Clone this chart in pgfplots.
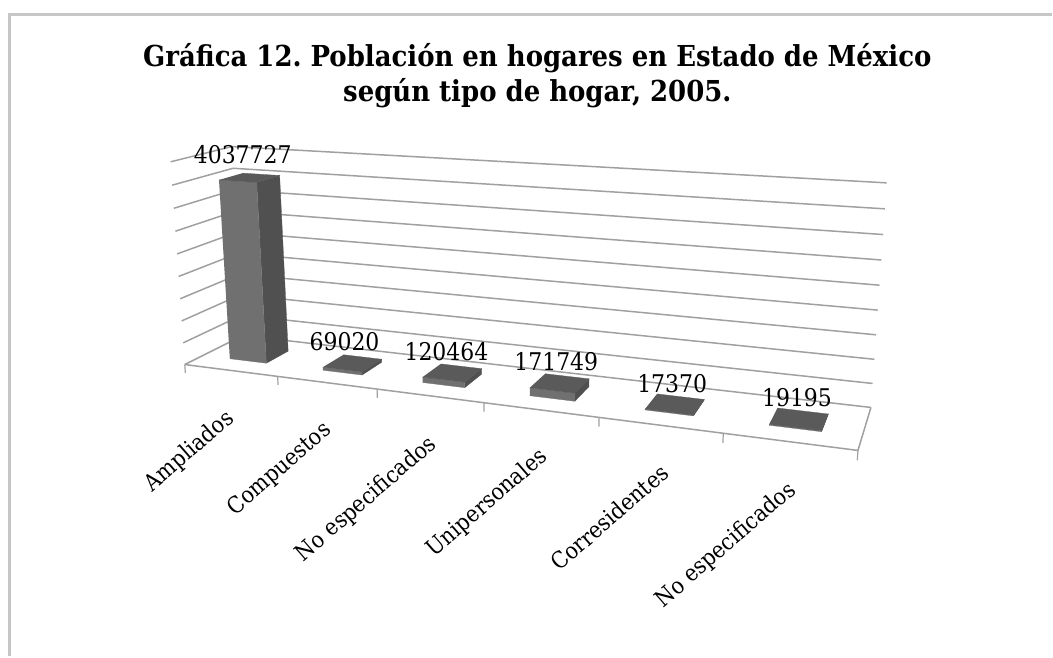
\documentclass[border=0pt]{standalone}
\usepackage{fontspec}
\usepackage{pgfplots}
\pgfplotsset{compat=1.18}
\setmainfont{DejaVu Serif Condensed}
\newfontfamily\lab{DejaVu Serif Condensed}
\definecolor{gridc}{HTML}{A0A0A0}
\definecolor{framec}{HTML}{C6C6C6}
\definecolor{frontc}{HTML}{707070}
\definecolor{sidec}{HTML}{505050}
\definecolor{topc}{HTML}{5A5A5A}
% one projected face: #1 style, #2 category offset, #3 rows x y z
\newcommand{\face}[3]{\addplot[#1] table[row sep=\\,
  x expr={prju(\thisrow{x}+#2,\thisrow{y},\thisrow{z})},
  y expr={prjv(\thisrow{x}+#2,\thisrow{y},\thisrow{z})}] {x y z\\ #3};}
% a bar: #1 category index, #2 value
\newcommand{\threebar}[2]{%
  \face{fill=sidec,draw=sidec,line width=.3bp}{#1}{0.7 0.3 0\\ 0.7 0.7 0\\ 0.7 0.7 #2\\ 0.7 0.3 #2\\}
  \face{fill=frontc,draw=frontc,line width=.3bp}{#1}{0.3 0.3 0\\ 0.7 0.3 0\\ 0.7 0.3 #2\\ 0.3 0.3 #2\\}
  \face{fill=topc,draw=topc,line width=.3bp}{#1}{0.3 0.3 #2\\ 0.7 0.3 #2\\ 0.7 0.7 #2\\ 0.3 0.7 #2\\}
}
\newcommand{\gridl}[1]{\face{gridc,line width=1.5bp}{0}{0 0 #1\\ 0 1 #1\\ 6 1 #1\\}}
\newcommand{\tickl}[1]{\face{gridc,line width=1.2bp}{#1}{0 0 0\\ 0 0 -190000\\}}
\begin{document}
\frenchspacing
\begin{tikzpicture}
\begin{axis}[
  scale only axis, width=1053bp, height=657bp,
  xmin=0, xmax=1053, ymin=0, ymax=657, y dir=reverse,
  hide axis, clip=false, no markers,
  declare function={
    prjz(\a,\c)=\c/4500000*(1-0.026*\a/6);
    prjw(\a,\b,\c)=1-0.2*\a/6+0.0757*\b-0.0395*prjz(\a,\c);
    prju(\a,\b,\c)=(502.2*\a/6+76.4*\b-20.9*prjz(\a,\c)+185)/prjw(\a,\b,\c);
    prjv(\a,\b,\c)=(-4.2*\a/6-3.56*\b-209.4*prjz(\a,\c)+365)/prjw(\a,\b,\c);
  },
]
% full page extent
\path (axis cs:0,0) rectangle (axis cs:1053,657);
% frame
\addplot[framec,line width=2.6bp] coordinates {(9.5,657) (9.5,14.5) (1053,14.5)};
% walls
\gridl{0}\gridl{500000}\gridl{1000000}\gridl{1500000}\gridl{2000000}
\gridl{2500000}\gridl{3000000}\gridl{3500000}\gridl{4000000}\gridl{4500000}
% floor front and right edge
\face{gridc,line width=1.5bp}{0}{0 0 0\\ 6 0 0\\ 6 1 0\\}
\tickl{0}\tickl{1}\tickl{2}\tickl{3}\tickl{4}\tickl{5}\tickl{6}
% bars
\threebar{0}{4037727}
\threebar{1}{69020}
\threebar{2}{120464}
\threebar{3}{171749}
\threebar{4}{17370}
\threebar{5}{19195}
% data labels
\addplot[only marks, mark=none, nodes near coords, point meta=explicit symbolic,
  nodes near coords align={center},
  every node near coord/.append style={font=\lab\fontsize{24.5}{24.5}\selectfont, text=black, inner sep=0pt}]
  table[meta=v, row sep=\\] {
  x y v\\
  243 155 4037727\\
  345 342 69020\\
  447 352 120464\\
  557 362 171749\\
  673 384 17370\\
  798 398 19195\\
};
% title
\node[font=\bfseries\fontsize{29}{29}\selectfont] at (axis cs:538,58) {Gráfica 12. Población en hogares en Estado de México};
\node[font=\bfseries\fontsize{29}{29}\selectfont] at (axis cs:538,93) {según tipo de hogar, 2005.};
% category labels
\begin{scope}[every node/.style={font=\lab\fontsize{23}{23}\selectfont, rotate=41, anchor=center, inner sep=0pt}]
\node at (axis cs:190,452) {Ampliados};
\node at (axis cs:280,470) {Compuestos};
\node at (axis cs:367,500) {No especificados};
\node at (axis cs:488,504) {Unipersonales};
\node at (axis cs:610,518) {Corresidentes};
\node at (axis cs:727,546) {No especificados};
\end{scope}
\end{axis}
\end{tikzpicture}
\end{document}
